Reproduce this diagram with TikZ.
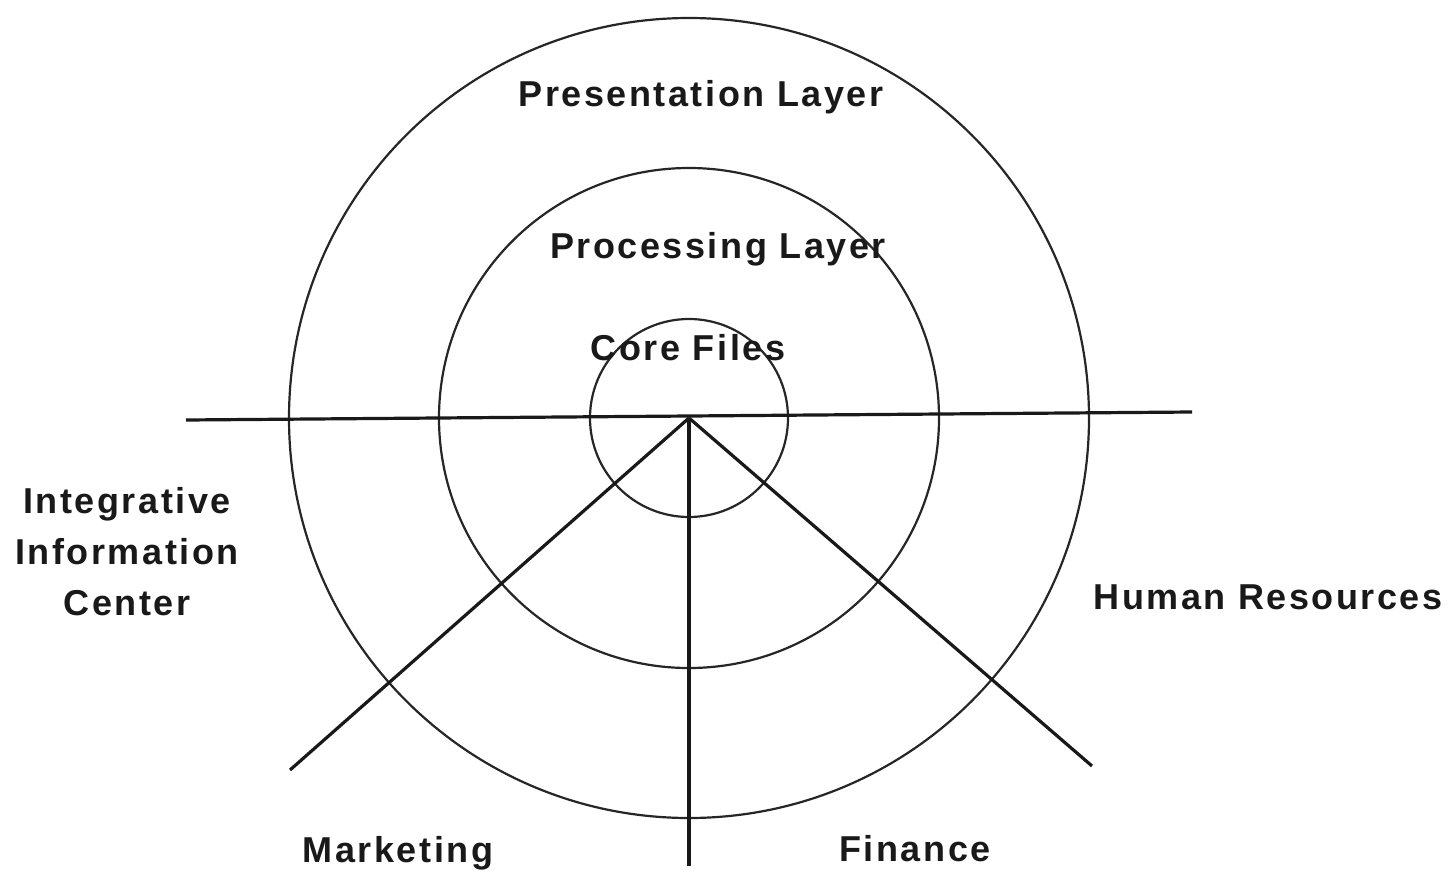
\documentclass[tikz,border=0pt]{standalone}
\usepackage{fontspec}
\setmainfont{Liberation Sans}[LetterSpace=7]
\begin{document}
\begin{tikzpicture}[x=1pt,y=-1pt,
  ring/.style={draw=black!85,line width=2.2pt},
  spoke/.style={draw=black!90,line width=3.2pt},
  lbl/.style={font=\fontsize{36}{51}\selectfont\bfseries,text=black!90,inner sep=0pt,anchor=base,align=center}]
\useasboundingbox (0,0) rectangle (1455,870);
\coordinate (c) at (689,418);
\draw[ring] (c) circle (400);
\draw[ring] (c) circle (250);
\draw[ring] (c) circle (99);
\coordinate (hl) at (186,420);
\coordinate (hr) at (1192,412);
\coordinate (dl) at (290,770);
\coordinate (dr) at (1092,766);
\coordinate (dv) at (689,866);
\draw[spoke] (hl) -- (hr);
\draw[spoke] (c) -- (dl);
\draw[spoke] (c) -- (dr);
\draw[spoke] (c) -- (dv);
\node[lbl] (pres) at (701,106) {Presentation Layer};
\node[lbl] (proc) at (718,258) {Processing Layer};
\node[lbl] (core) at (688,360) {Core Files};
\node[lbl,anchor=north] (iic) at (127,487) {Integrative\\Information\\Center};
\node[lbl] (hres) at (1268,609) {Human Resources};
\node[lbl] (mkt) at (398,862) {Marketing};
\node[lbl] (fin) at (915,861) {Finance};
\end{tikzpicture}
\end{document}
